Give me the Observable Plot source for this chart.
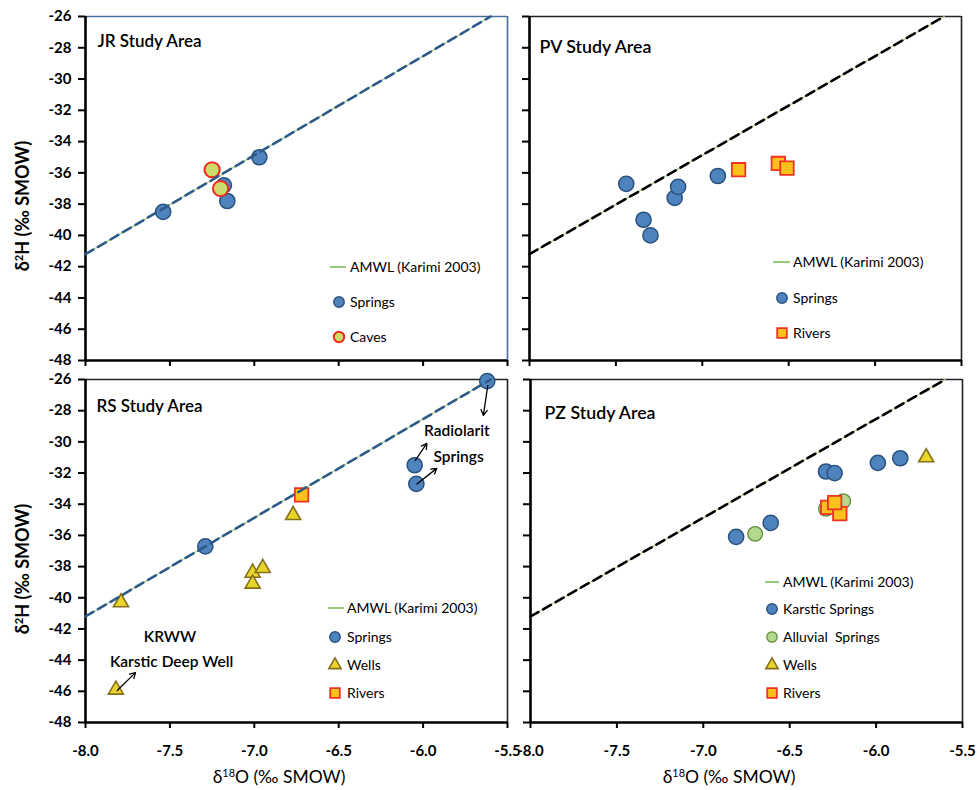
<!DOCTYPE html>
<html><head><meta charset="utf-8">
<script src="https://cdn.jsdelivr.net/npm/d3@7"></script>
<script src="https://cdn.jsdelivr.net/npm/@observablehq/plot@0.6"></script>
<style>
body{margin:0;background:#fff;}
#wrap{position:relative;width:979px;height:790px;overflow:hidden;font-family:Lato,"Open Sans",sans-serif;color:#000;}
#wrap svg{position:absolute;}
.lab{position:absolute;white-space:nowrap;color:#000;line-height:1;}
.lab sup{font-size:0.62em;vertical-align:0.55em;}
</style></head><body><div id="wrap"></div>
<script>
// ---------- data ----------
const xTicks = [-8.0, -7.5, -7.0, -6.5, -6.0, -5.5];
const yTicks = [-26, -28, -30, -32, -34, -36, -38, -40, -42, -44, -46, -48];
const amwlX = [-8.0, -5.6];
const amwlY = [-41.2, -26.0];

// JR Study Area
const jrSpringsX = [-7.54, -6.97, -7.18, -7.16];
const jrSpringsY = [-38.5, -35.0, -36.8, -37.8];
const jrCavesX = [-7.25, -7.20];
const jrCavesY = [-35.8, -37.0];

// PV Study Area
const pvSpringsX = [-7.44, -7.34, -7.30, -7.16, -7.14, -6.91];
const pvSpringsY = [-36.7, -39.0, -40.0, -37.6, -36.9, -36.2];
const pvRiversX = [-6.79, -6.56, -6.51];
const pvRiversY = [-35.8, -35.4, -35.7];

// RS Study Area
const rsSpringsX = [-5.62, -6.05, -6.04, -7.29];
const rsSpringsY = [-26.1, -31.5, -32.7, -36.7];
const rsWellsX = [-7.79, -7.82, -6.77, -7.01, -7.01, -6.95];
const rsWellsY = [-40.3, -45.9, -34.7, -38.4, -39.1, -38.1];
const rsRiversX = [-6.72];
const rsRiversY = [-33.4];
const rsNoteText = ["Radiolarit", "Springs", "KRWW", "Karstic Deep Well"];
const rsNoteX = [-5.80, -5.79, -7.50, -7.49];
const rsNoteY = [-29.3, -31.0, -42.5, -44.1];
const rsArrowX1 = [-5.617, -6.047, -6.037, -7.812];
const rsArrowY1 = [-26.4, -31.2, -32.7, -45.95];
const rsArrowX2 = [-5.643, -5.978, -5.919, -7.704];
const rsArrowY2 = [-28.3, -30.1, -31.7, -44.8];

// PZ Study Area
const pzKarsticX = [-6.81, -6.61, -6.29, -6.24, -5.99, -5.86];
const pzKarsticY = [-36.1, -35.2, -31.9, -32.0, -31.35, -31.05];
const pzAlluvialX = [-6.70, -6.19, -6.29];
const pzAlluvialY = [-35.9, -33.8, -34.3];
const pzWellsX = [-5.71];
const pzWellsY = [-31.0];
const pzRiversX = [-6.28, -6.21, -6.24];
const pzRiversY = [-34.2, -34.6, -33.9];

// ---------- styles ----------
const FONT = "Lato, 'Open Sans', sans-serif";
const STY = {
  spring:   {symbol: "circle",   r: 7.6, fill: "#4f83bd", stroke: "#2a527f", strokeWidth: 1.5},
  cave:     {symbol: "circle",   r: 7.6, fill: "#cddb6a", stroke: "#f0281e", strokeWidth: 2},
  river:    {symbol: "square",   r: 7.6, fill: "#fcc21c", stroke: "#ee3224", strokeWidth: 1.8},
  well:     {symbol: "triangle", r: 5.6, fill: "#e8d42a", stroke: "#86711d", strokeWidth: 1.6},
  alluvial: {symbol: "circle",   r: 7.3, fill: "#b5d98c", stroke: "#5e8e3d", strokeWidth: 1.3}
};
const LEG_R = {circle: 5.2, square: 5.4, triangle: 4.6};
const symType = {circle: d3.symbolCircle, square: d3.symbolSquare, triangle: d3.symbolTriangle};

function pts(xs, ys) { return xs.map((x, i) => ({x, y: ys[i]})); }
function dots(xs, ys, st) { return Plot.dot(pts(xs, ys), {x: "x", y: "y", ...st}); }

const wrap = document.getElementById("wrap");

function panel(o) {
  const marks = [
    Plot.axisY(yTicks, {tickSize: 7, tickPadding: 7, strokeWidth: 2, fontWeight: "bold", fontSize: 15, tickFormat: o.yLabels ? (d => String(d)) : (() => ""), label: null}),
    Plot.axisX(xTicks, {tickSize: 6, tickPadding: 17, strokeWidth: 2, fontWeight: "bold", fontSize: 15, tickFormat: o.xLabels ? (d => d.toFixed(1)) : (() => ""), label: null}),
    Plot.ruleY([-26], {stroke: o.frameColor, strokeWidth: 1.6}),
    Plot.ruleX([-5.5], {stroke: o.frameColor, strokeWidth: 1.6}),
    Plot.ruleX([-8], {stroke: "#000", strokeWidth: 2.6}),
    Plot.ruleY([-48], {stroke: "#000", strokeWidth: 2.6}),
    Plot.line(pts(amwlX, amwlY), {x: "x", y: "y", stroke: "#a9d18e", strokeWidth: 1.3}),
    ...o.series.map(s => dots(s.x, s.y, STY[s.style])),
    Plot.line(pts(amwlX, amwlY), {x: "x", y: "y", stroke: o.lineColor, strokeWidth: 2.6, strokeDasharray: "9,5.5"}),
    Plot.text([o.title], {frameAnchor: "top-left", dx: o.titleDx, dy: o.titleDy, textAnchor: "start", lineAnchor: "middle", fontSize: 18, fontWeight: 600, fill: "#000", className: "ptitle"}),
    ...(o.extra || [])
  ];
  const svg = Plot.plot({
    width: o.width, height: o.height,
    marginTop: o.mt, marginBottom: o.mb, marginLeft: o.ml, marginRight: o.mr,
    x: {domain: [-8, -5.5]},
    y: {domain: [-48, -26]},
    style: {background: "transparent", fontFamily: FONT, fontSize: "15px", color: "#000", overflow: "visible"},
    marks
  });
  svg.style.left = o.left + "px";
  svg.style.top = o.top + "px";
  // condense the panel title to the reference's narrow face
  d3.select(svg).selectAll(".ptitle text").attr("textLength", o.titleW).attr("lengthAdjust", "spacingAndGlyphs");
  // legend
  const g = d3.select(svg).append("g").attr("font-family", FONT).attr("font-size", 14)
    .attr("font-weight", "normal").attr("text-anchor", "start").attr("fill", "#000");
  const L = o.legend;
  g.append("line").attr("x1", L.lx1).attr("x2", L.lx2).attr("y1", L.y0).attr("y2", L.y0).attr("stroke", "#9bc97a").attr("stroke-width", 2);
  g.append("text").attr("x", L.tx).attr("y", L.y0).attr("dy", "0.35em").text("AMWL (Karimi 2003)");
  L.items.forEach((it, i) => {
    const st = STY[it.style];
    const yy = L.ys[i];
    const r = LEG_R[st.symbol];
    g.append("path").attr("transform", `translate(${L.mx},${yy})`)
      .attr("d", d3.symbol().type(symType[st.symbol]).size(Math.PI * r * r)())
      .attr("fill", st.fill).attr("stroke", st.stroke).attr("stroke-width", st.strokeWidth);
    g.append("text").attr("x", L.tx).attr("y", yy).attr("dy", "0.35em").text(it.label);
  });
  wrap.appendChild(svg);
}

// JR
panel({left: 0, top: 0, width: 530, height: 372, mt: 16, mb: 12, ml: 85, mr: 23,
  yLabels: true, xLabels: false, frameColor: "#4a6f9c", lineColor: "#2e5a87",
  title: "JR Study Area", titleDx: 12, titleDy: 25, titleW: 104,
  series: [{x: jrSpringsX, y: jrSpringsY, style: "spring"}, {x: jrCavesX, y: jrCavesY, style: "cave"}],
  legend: {lx1: 330, lx2: 346, tx: 350, y0: 267, mx: 339, ys: [302, 337],
    items: [{style: "spring", label: "Springs"}, {style: "cave", label: "Caves"}]}
});
// PV
panel({left: 505, top: 0, width: 474, height: 372, mt: 16, mb: 12, ml: 24, mr: 18,
  yLabels: false, xLabels: false, frameColor: "#222", lineColor: "#000",
  title: "PV Study Area", titleDx: 10, titleDy: 31, titleW: 112,
  series: [{x: pvSpringsX, y: pvSpringsY, style: "spring"}, {x: pvRiversX, y: pvRiversY, style: "river"}],
  legend: {lx1: 268, lx2: 285, tx: 288, y0: 262, mx: 277, ys: [298, 333],
    items: [{style: "spring", label: "Springs"}, {style: "river", label: "Rivers"}]}
});
// RS
panel({left: 0, top: 363, width: 530, height: 427, mt: 16, mb: 68, ml: 85, mr: 23,
  yLabels: true, xLabels: true, frameColor: "#222", lineColor: "#2e5a87",
  title: "RS Study Area", titleDx: 11, titleDy: 27, titleW: 106,
  series: [{x: rsSpringsX, y: rsSpringsY, style: "spring"}, {x: rsWellsX, y: rsWellsY, style: "well"}, {x: rsRiversX, y: rsRiversY, style: "river"}],
  extra: [
    Plot.text(rsNoteText, {x: rsNoteX, y: rsNoteY, text: d => d, textAnchor: "middle", fontSize: 15.5, fontWeight: 600, fill: "#000"}),
    Plot.arrow(rsNoteText, {x1: rsArrowX1, y1: rsArrowY1, x2: rsArrowX2, y2: rsArrowY2, stroke: "#000", strokeWidth: 1.3, headLength: 7, bend: false})
  ],
  legend: {lx1: 328, lx2: 344, tx: 347, y0: 245, mx: 335, ys: [274, 302, 330],
    items: [{style: "spring", label: "Springs"}, {style: "well", label: "Wells"}, {style: "river", label: "Rivers"}]}
});
// PZ
panel({left: 505, top: 363, width: 474, height: 427, mt: 16, mb: 68, ml: 25, mr: 17,
  yLabels: false, xLabels: true, frameColor: "#222", lineColor: "#000",
  title: "PZ Study Area", titleDx: 14, titleDy: 34, titleW: 111,
  series: [{x: pzKarsticX, y: pzKarsticY, style: "spring"}, {x: pzAlluvialX, y: pzAlluvialY, style: "alluvial"}, {x: pzWellsX, y: pzWellsY, style: "well"}, {x: pzRiversX, y: pzRiversY, style: "river"}],
  legend: {lx1: 260, lx2: 274, tx: 278, y0: 219, mx: 267, ys: [246, 274, 302, 330],
    items: [{style: "spring", label: "Karstic Springs"}, {style: "alluvial", label: "Alluvial  Springs"}, {style: "well", label: "Wells"}, {style: "river", label: "Rivers"}]}
});

// axis titles (HTML, with superscripts)
function lab(html, x, y, rot, weight, size) {
  const d = document.createElement("div");
  d.className = "lab";
  d.innerHTML = html;
  d.style.fontSize = size + "px";
  d.style.fontWeight = weight;
  d.style.left = x + "px";
  d.style.top = y + "px";
  d.style.transform = "translate(-50%,-50%)" + (rot ? " rotate(-90deg)" : "");
  wrap.appendChild(d);
}
lab("δ<sup>2</sup>H (‰ SMOW)", 22, 206, true, "bold", 18);
lab("δ<sup>2</sup>H (‰ SMOW)", 22, 569, true, "bold", 18);
lab("δ<sup>18</sup>O (‰ SMOW)", 279, 777, false, "normal", 17.5);
lab("δ<sup>18</sup>O (‰ SMOW)", 729, 777, false, "normal", 17.5);
</script></body></html>
